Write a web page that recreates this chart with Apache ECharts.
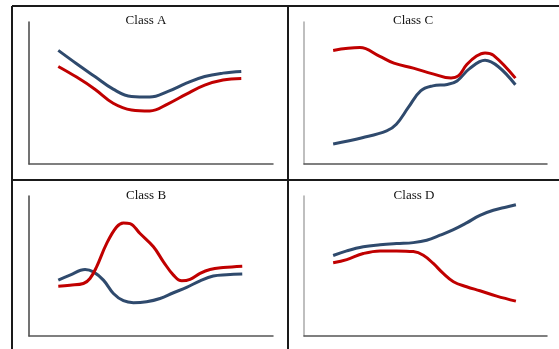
<!DOCTYPE html>
<html>
<head>
<meta charset="utf-8">
<script src="https://cdn.jsdelivr.net/npm/echarts@6/dist/echarts.min.js"></script>
<style>
  html, body { margin: 0; padding: 0; background: #fff; }
  #chart { width: 559px; height: 349px; }
</style>
</head>
<body>
<div id="chart"></div>
<script>
// panel titles
var titles = ["Class A", "Class C", "Class B", "Class D"];

// Class A
var aBlueX = [12, 19.5, 27, 34.5, 42, 49.5, 57, 64.5, 72, 79.5, 87];
var aBlueY = [80, 70.6, 61.6, 52.7, 47.5, 47.1, 51.1, 56.9, 61.6, 64, 65.2];
var aRedX  = [12, 19.5, 27, 34.5, 42, 49.5, 57, 64.5, 72, 79.5, 87];
var aRedY  = [68.7, 61.2, 52.7, 42.8, 38.1, 37.4, 42.4, 49.2, 55.5, 59.1, 60.2];

// Class C
var cBlueX = [12, 24, 34, 38, 43, 48, 53, 59, 63, 68, 74.5, 80, 87];
var cBlueY = [14.1, 18.5, 23.3, 28, 40, 51.5, 55, 56, 58.5, 67, 73, 68.5, 55.8];
var cRedX  = [12, 23, 31, 37, 45, 53, 60.5, 63.5, 67, 71, 74.5, 78, 87];
var cRedY  = [80, 82, 76, 71, 67.5, 63.5, 60.5, 62, 70, 76, 78.2, 76.5, 60.5];

// Class B
var bBlueX = [12, 16.8, 23, 26.4, 30.5, 34.6, 38.7, 42.8, 48.2, 53.7, 59.2, 64.6, 70.1, 75.5, 81, 87.4];
var bBlueY = [39.9, 43.5, 47.5, 45.8, 39.9, 30.4, 25.2, 23.8, 24.5, 26.8, 30.9, 34.7, 39.4, 42.8, 43.7, 44.2];
var bRedX  = [12, 16.8, 22.3, 25, 27.7, 31.8, 35.9, 38.7, 41.4, 45.5, 51, 55.1, 59.2, 62.6, 66, 70.1, 74.2, 79.6, 87.4];
var bRedY  = [35.6, 36.3, 37.5, 41.1, 49.4, 66, 77.9, 80.8, 80.3, 73.2, 63.7, 53, 43.5, 39.4, 40.4, 44.7, 47.5, 48.9, 49.9];

// Class D
var dBlueX = [12, 17.6, 24.4, 31.3, 38.1, 45, 50.5, 56, 61.5, 66.9, 72.4, 77.9, 83.4, 87.2];
var dBlueY = [57.5, 60.8, 63.7, 65.1, 66, 66.7, 68.4, 72, 76, 80.8, 86.2, 89.8, 92.2, 93.8];
var dRedX  = [12, 17.6, 24.4, 31.3, 38.1, 45, 49.1, 53.2, 57.3, 61.5, 66.9, 72.4, 79.3, 87.2];
var dRedY  = [52.3, 54.6, 58.9, 60.8, 60.8, 60.3, 57.7, 51.8, 44.7, 38.8, 35.2, 32.3, 28.5, 24.9];

var blue = "#2f4a6d";
var red = "#c00000";

function pairs(xs, ys)
{
    var out = [];
    for (var i = 0; i < xs.length; i++) {
        out.push([xs[i], ys[i]]);
    }
    return out;
}

function lineSeries(idx, xs, ys, color)
{
    return {
        type: "line",
        xAxisIndex: idx,
        yAxisIndex: idx,
        data: pairs(xs, ys),
        smooth: 0.4,
        symbol: "none",
        lineStyle: { color: color, width: 3 },
        z: 3
    };
}

var grids = [
    { left: 29, top: 22, width: 244, height: 142 },
    { left: 304, top: 22, width: 243, height: 142 },
    { left: 29, top: 196, width: 244, height: 140 },
    { left: 304, top: 196, width: 243, height: 140 }
];
var titlePos = [[146, 14], [413, 14], [146, 189], [414, 189]];
var yAxisColors = ["#444", "#aaa", "#444", "#aaa"];

var xAxes = [], yAxes = [], titleList = [];
for (var i = 0; i < 4; i++) {
    xAxes.push({
        type: "value", gridIndex: i, min: 0, max: 100,
        axisLine: { show: true, onZero: false, lineStyle: { color: "#555", width: 1.5 } },
        axisTick: { show: false }, axisLabel: { show: false }, splitLine: { show: false }
    });
    yAxes.push({
        type: "value", gridIndex: i, min: 0, max: 100,
        axisLine: { show: true, onZero: false, lineStyle: { color: yAxisColors[i], width: 1.5 } },
        axisTick: { show: false }, axisLabel: { show: false }, splitLine: { show: false }
    });
    titleList.push({
        text: titles[i], left: titlePos[i][0], top: titlePos[i][1], textAlign: "center", padding: 0,
        textStyle: { fontFamily: "Liberation Serif", fontSize: 13, fontWeight: "normal", color: "#111" }
    });
}

// table borders around the four panels
var border = { stroke: "#1a1a1a", lineWidth: 2 };
var graphics = [
    { type: "line", shape: { x1: 12, y1: 6, x2: 559, y2: 6 }, style: border },
    { type: "line", shape: { x1: 12, y1: 180, x2: 559, y2: 180 }, style: border },
    { type: "line", shape: { x1: 12, y1: 6, x2: 12, y2: 349 }, style: border },
    { type: "line", shape: { x1: 288, y1: 6, x2: 288, y2: 349 }, style: border }
];

var chart = echarts.init(document.getElementById("chart"));
chart.setOption({
    animation: false,
    backgroundColor: "#fff",
    title: titleList,
    grid: grids,
    xAxis: xAxes,
    yAxis: yAxes,
    graphic: graphics,
    series: [
        lineSeries(0, aRedX, aRedY, red),
        lineSeries(0, aBlueX, aBlueY, blue),
        lineSeries(1, cBlueX, cBlueY, blue),
        lineSeries(1, cRedX, cRedY, red),
        lineSeries(2, bBlueX, bBlueY, blue),
        lineSeries(2, bRedX, bRedY, red),
        lineSeries(3, dBlueX, dBlueY, blue),
        lineSeries(3, dRedX, dRedY, red)
    ]
});
</script>
</body>
</html>
